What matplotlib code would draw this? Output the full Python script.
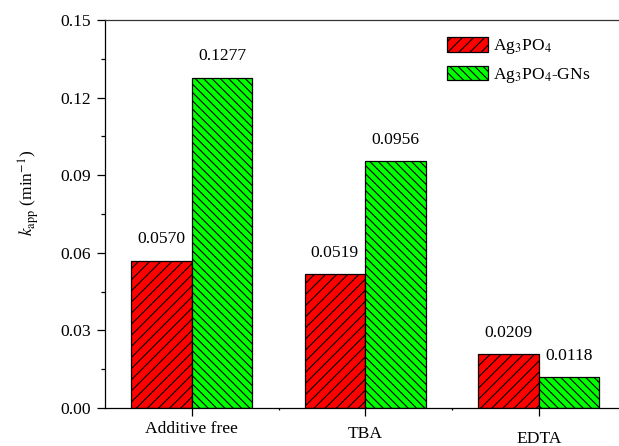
import matplotlib
matplotlib.use("Agg")
import matplotlib.pyplot as plt
import numpy as np

categories = ["Additive free", "TBA", "EDTA"]
ag3po4 = [0.0570, 0.0519, 0.0209]
ag3po4_gns = [0.1277, 0.0956, 0.0118]
series_labels = ["Ag$_3$PO$_4$", "Ag$_3$PO$_4$-GNs"]
yticks = [0.00, 0.03, 0.06, 0.09, 0.12, 0.15]

plt.rcParams['font.family'] = ['Liberation Serif', 'STIXGeneral', 'DejaVu Serif']
plt.rcParams['mathtext.fontset'] = 'stix'
plt.rcParams['hatch.linewidth'] = 0.8
plt.rcParams['hatch.color'] = 'black'

fs = 12.6
fig = plt.figure(figsize=(6.19, 4.46), dpi=100)
ax = fig.add_axes([105/619, 38/446, 520.5/619, 388/446])

x = np.arange(1, len(categories) + 1)
w = 0.35
b1 = ax.bar(x - w/2, ag3po4, w, color='#FF0000', edgecolor='black', linewidth=0.9,
            hatch='///', label=series_labels[0])
b2 = ax.bar(x + w/2, ag3po4_gns, w, color='#00FF00', edgecolor='black', linewidth=0.9,
            hatch='\\\\\\\\', label=series_labels[1])

for bars, vals in ((b1, ag3po4), (b2, ag3po4_gns)):
    for rect, v in zip(bars, vals):
        ax.annotate(f"{v:.4f}", (rect.get_x() + rect.get_width()/2, v),
                    xytext=(0, 9.5), textcoords='offset points',
                    ha='center', va='bottom', fontsize=fs)

ax.set_xlim(0.5, 3.5)
ax.set_ylim(0, 0.15)
ax.set_yticks(yticks)
ax.set_yticklabels([f"{t:.2f}" for t in yticks])
ax.set_yticks(np.arange(0.015, 0.15, 0.03), minor=True)
ax.set_xticks(x)
ax.set_xticklabels(categories)
ax.set_xticks([1.5, 2.5], minor=True)

ax.tick_params(axis='both', which='major', direction='out', length=6, width=0.9,
               labelsize=fs, pad=4)
ax.tick_params(axis='y', which='minor', direction='out', length=3, width=0.9)
ax.tick_params(axis='x', which='minor', direction='out', length=1.5, width=0.9)

for i, p in enumerate([3.3, 7.0, 10.6]):
    ax.xaxis.get_major_ticks()[i].set_pad(p)

for s in ax.spines.values():
    s.set_linewidth(0.9)
ax.spines['top'].set_color('#333333')

ax.set_ylabel(r"$k_{\mathrm{app}}$ (min$^{-1}$)", fontsize=fs)
ax.yaxis.set_label_coords(-0.122, 0.554)

leg = ax.legend(loc='upper left', bbox_to_anchor=(447/619, (446-37)/446),
                bbox_transform=fig.transFigure, frameon=False, fontsize=fs,
                borderpad=0, borderaxespad=0, handlelength=2.35, handleheight=0.9,
                handletextpad=0.3, labelspacing=0.55)

fig.savefig("out.png", dpi=100)
